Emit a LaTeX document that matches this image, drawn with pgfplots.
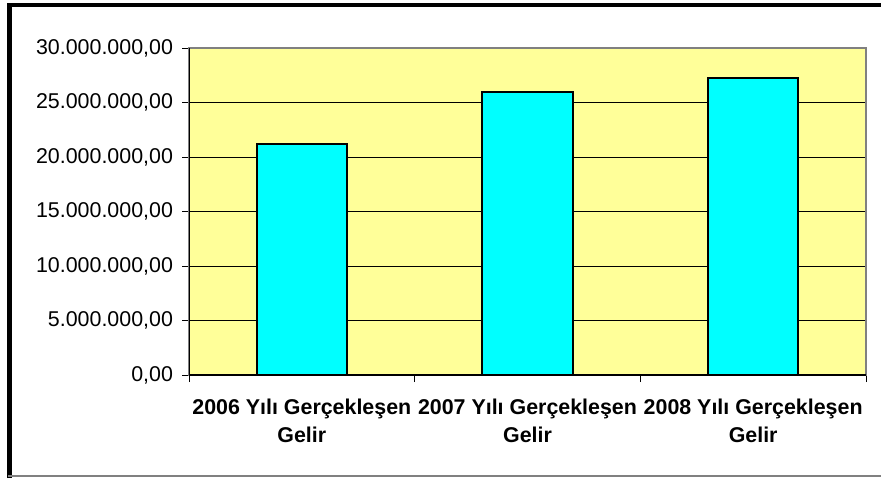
\documentclass[border=0pt]{standalone}
\usepackage{fontspec}
\setmainfont{Liberation Sans}
\usepackage{pgfplots}
\pgfplotsset{compat=1.18}
\definecolor{plotbg}{RGB}{255,255,153}
\definecolor{barfill}{RGB}{0,255,255}
\definecolor{frame}{RGB}{128,128,128}
\begin{document}
\begin{tikzpicture}
\useasboundingbox (0,0) rectangle (440.5pt,239pt);
% outer chart frame (left and top heavy, bottom thin)
\draw[black, line width=2.2pt] (4.75pt,0pt) -- (4.75pt,236.5pt) -- (441pt,236.5pt);
\draw[frame, line width=0.8pt] (4pt,1pt) -- (441pt,1pt);
\begin{axis}[
  at={(94.5pt,51.5pt)}, anchor=south west,
  scale only axis,
  width=338.5pt, height=163.5pt,
  xmin=-0.5, xmax=2.5,
  ymin=0, ymax=30000000,
  ytick={0,5000000,10000000,15000000,20000000,25000000,30000000},
  xtick={-0.5,0.5,1.5,2.5},
  xticklabels={},
  extra x ticks={0,1,2},
  extra x tick labels={{2006 Yılı Gerçekleşen\\Gelir},{2007 Yılı Gerçekleşen\\Gelir},{2008 Yılı Gerçekleşen\\Gelir}},
  extra x tick style={major tick length=0pt, grid=none},
  tick pos=left,
  tick align=outside,
  tick style={draw=black, line width=0.5pt},
  major tick length=3.5pt,
  ymajorgrids=true,
  grid style={black, line width=0.5pt},
  axis background/.style={fill=plotbg},
  axis line style={frame, line width=1pt},
  scaled y ticks=false,
  /pgf/number format/fixed,
  /pgf/number format/fixed zerofill,
  /pgf/number format/precision=2,
  /pgf/number format/use comma,
  /pgf/number format/1000 sep={.},
  /pgf/number format/assume math mode=true,
  ticklabel style={font=\fontsize{10.7}{13}\selectfont},
  xticklabel style={font=\fontsize{10.7}{14}\selectfont\bfseries, align=center, yshift=-8.5pt},
  yticklabel style={xshift=-1pt},
]
\addplot[ybar, bar width=0.4, fill=barfill, draw=black, line width=1pt]
  coordinates {(0,21190000) (1,25920000) (2,27260000)};
\draw[black, line width=0.6pt] (rel axis cs:0,1) -- (rel axis cs:0,0) -- (rel axis cs:1,0);
\end{axis}
\end{tikzpicture}
\end{document}
